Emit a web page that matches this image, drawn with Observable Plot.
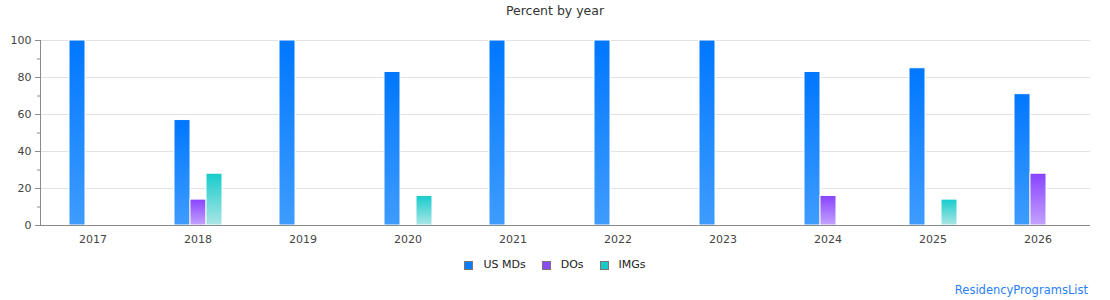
<!DOCTYPE html>
<html>
<head>
<meta charset="utf-8">
<script src="https://cdn.jsdelivr.net/npm/d3@7"></script>
<script src="https://cdn.jsdelivr.net/npm/@observablehq/plot@0.6"></script>
<style>
  body { margin: 0; background: #fff; font-family: "DejaVu Sans", sans-serif; }
  #wrap { position: relative; width: 1110px; height: 300px; }
  #title { height: 22px; line-height: 22px; text-align: center; font-size: 12.5px; color: #333; }
  #chart svg { display: block; }
  #legend { position: absolute; left: 0; top: 257px; width: 1110px; display: flex; justify-content: center; gap: 16px; font-size: 11px; color: #222; line-height: 16px; }
  #legend .item { display: flex; align-items: center; }
  #legend .sw { width: 7px; height: 7px; border: 1px solid #777; margin-right: 10px; }
  #caption { position: absolute; right: 22px; top: 282px; font-size: 11.5px; color: #2a80f8; line-height: 16px; }
</style>
</head>
<body>
<div id="wrap">
  <div id="title">Percent by year</div>
  <div id="chart"></div>
  <div id="legend"></div>
  <div id="caption">ResidencyProgramsList</div>
</div>
<script>
// Match-year categories and the share of matched applicants per group (%)
const years = ["2017", "2018", "2019", "2020", "2021", "2022", "2023", "2024", "2025", "2026"];
const seriesNames = ["US MDs", "DOs", "IMGs"];
const usMDs = [100, 57, 100, 83, 100, 100, 100, 83, 85, 71];
const dos   = [0, 14, 0, 0, 0, 0, 0, 16, 0, 28];
const imgs  = [0, 28, 0, 16, 0, 0, 0, 0, 14, 0];
const yTicks = [0, 20, 40, 60, 80, 100];
const yMinorTicks = [10, 30, 50, 70, 90];

// Per-series gradient: saturated at the top, lighter toward the base
const gradients = [
  { id: "grad-us",  top: "#0077ff", bottom: "#3f9cff", swatch: "#0a7cff" },
  { id: "grad-do",  top: "#8842ff", bottom: "#c4a2ff", swatch: "#8a4af5" },
  { id: "grad-img", top: "#16cccc", bottom: "#abe5e5", swatch: "#1cc8c8" }
];

const seriesValues = [usMDs, dos, imgs];
const rows = [];
years.forEach((year, i) => {
  seriesNames.forEach((name, s) => {
    rows.push({ year, series: name, value: seriesValues[s][i] });
  });
});

const chart = Plot.plot({
  width: 1110,
  height: 228,
  marginLeft: 40,
  marginRight: 20,
  marginTop: 18,
  marginBottom: 25,
  style: { fontFamily: "DejaVu Sans, sans-serif", fontSize: "11px", color: "#444", background: "white" },
  fx: { domain: years, padding: 0, label: null, axis: "bottom", tickSize: 0, tickPadding: 10 },
  x: { domain: seriesNames, paddingInner: 0, paddingOuter: 1.59, axis: null },
  y: { domain: [0, 100], label: null },
  color: { domain: seriesNames, range: gradients.map(g => `url(#${g.id})`) },
  marks: [
    Plot.gridY(yTicks.filter(t => t > 0), { stroke: "#e2e2e2", strokeOpacity: 1 }),
    Plot.barY(rows, {
      fx: "year", x: "series", y: "value", fill: "series",
      stroke: "white", strokeWidth: 1
    }),
    Plot.ruleY([0], { stroke: "#8a8a8a" }),
    Plot.frame({ anchor: "left", facetAnchor: "left", stroke: "#8a8a8a" }),
    Plot.axisY(yTicks, { tickSize: 5, tickPadding: 4, stroke: "#8a8a8a", fill: "#444", label: null }),
    Plot.axisY(yMinorTicks, { tickSize: 3, tickFormat: () => "", stroke: "#8a8a8a", label: null })
  ]
});

// Gradient definitions referenced by the bar fills
const svgNS = "http://www.w3.org/2000/svg";
const defs = document.createElementNS(svgNS, "defs");
gradients.forEach(g => {
  const lg = document.createElementNS(svgNS, "linearGradient");
  lg.setAttribute("id", g.id);
  lg.setAttribute("x1", "0"); lg.setAttribute("y1", "0");
  lg.setAttribute("x2", "0"); lg.setAttribute("y2", "1");
  [["0%", g.top], ["100%", g.bottom]].forEach(([off, col]) => {
    const st = document.createElementNS(svgNS, "stop");
    st.setAttribute("offset", off);
    st.setAttribute("stop-color", col);
    lg.appendChild(st);
  });
  defs.appendChild(lg);
});
chart.insertBefore(defs, chart.firstChild);
document.getElementById("chart").appendChild(chart);

// Legend built from the series list
const legend = document.getElementById("legend");
seriesNames.forEach((name, i) => {
  const item = document.createElement("div");
  item.className = "item";
  const sw = document.createElement("span");
  sw.className = "sw";
  sw.style.background = gradients[i].swatch;
  const label = document.createElement("span");
  label.textContent = name;
  item.appendChild(sw);
  item.appendChild(label);
  legend.appendChild(item);
});
</script>
</body>
</html>
